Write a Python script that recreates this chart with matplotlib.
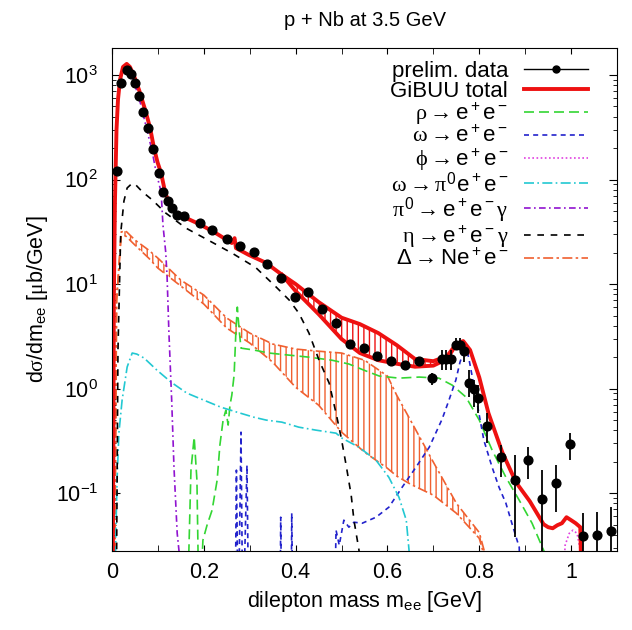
import numpy as np
import matplotlib
matplotlib.use('Agg')
import matplotlib.pyplot as plt
from matplotlib.lines import Line2D
from matplotlib.ticker import MultipleLocator, FuncFormatter, LogLocator

plt.rcParams['font.family'] = ['Liberation Sans', 'DejaVu Sans']
plt.rcParams['mathtext.fontset'] = 'custom'
plt.rcParams['mathtext.rm'] = 'Liberation Sans'
plt.rcParams['mathtext.it'] = 'Liberation Serif'
plt.rcParams['mathtext.default'] = 'it'
plt.rcParams['hatch.linewidth'] = 1.0

# preliminary data
data_x = [0.0115, 0.0203, 0.032, 0.0407, 0.0501, 0.0595, 0.0682, 0.0778, 0.0887, 0.1024,
          0.1118, 0.1214, 0.1314, 0.141, 0.157, 0.192, 0.2185, 0.25, 0.279, 0.309,
          0.338, 0.368, 0.399, 0.428, 0.458, 0.487, 0.518, 0.549, 0.578, 0.6085,
          0.638, 0.669, 0.698, 0.718, 0.728, 0.7386, 0.749, 0.7575, 0.7675, 0.778,
          0.7875, 0.797, 0.817, 0.8475, 0.877, 0.907, 0.9375, 0.9667, 0.997, 1.027,
          1.056, 1.0865]
data_y = [121, 844, 1116, 1016, 844, 634, 446, 313, 196, 115,
          76.5, 62.7, 53, 45.7, 44.7, 38.1, 32.9, 26.8, 23.1, 20.4,
          15.4, 11.4, 7.56, 8.43, 5.73, 4.21, 2.67, 2.46, 2.05, 1.85,
          1.67, 1.85, 1.27, 1.90, 1.90, 1.90, 2.61, 2.61, 2.28, 1.14,
          0.99, 0.817, 0.441, 0.220, 0.135, 0.207, 0.0889, 0.1265, 0.294, 0.0388,
          0.0396, 0.0432]
err_lo = [0] * 32 + [0.19, 0.40, 0.40, 0.40, 0.25, 0.25, 0.48, 0.30,
                     0.32, 0.23, 0.14, 0.078, 0.097, 0.071, 0.070, 0.061, 0.087, 0.0376,
                     0.0384, 0.0419]
err_hi = [0] * 32 + [0.14, 0.43, 0.43, 0.43, 0.43, 0.43, 0.23, 0.36,
                     0.22, 0.26, 0.14, 0.068, 0.096, 0.068, 0.077, 0.059, 0.081, 0.026,
                     0.026, 0.030]

# GiBUU total (upper branch of the band where there is one)
gibuu_x = [0.001, 0.003, 0.004, 0.0065, 0.0098, 0.013, 0.0174, 0.024, 0.032, 0.039,
           0.048, 0.059, 0.0734, 0.083, 0.0915, 0.099, 0.107, 0.1155, 0.124, 0.137,
           0.157, 0.19, 0.222, 0.261, 0.267, 0.27, 0.298, 0.335, 0.37, 0.40,
           0.45, 0.50, 0.54, 0.58, 0.62, 0.66, 0.70, 0.73, 0.75, 0.765,
           0.78, 0.80, 0.82, 0.85, 0.88, 0.91, 0.94, 0.95, 0.96, 0.97,
           0.98, 0.99, 1.0, 1.01, 1.02, 1.025]
gibuu_y = [0.005, 0.258, 7.03, 63.6, 298, 577, 896, 1194, 1275, 1194,
           978, 718, 446, 311, 200, 147, 115, 76.4, 59.6, 48.8,
           43.7, 37.5, 31.5, 24.7, 27.5, 22.1, 19.0, 16.0, 12.3, 10.0,
           6.73, 4.77, 4.14, 3.40, 2.61, 1.92, 1.83, 2.05, 2.67, 2.85,
           2.34, 1.28, 0.583, 0.247, 0.127, 0.0838, 0.0505, 0.0473, 0.0462, 0.0494,
           0.0516, 0.0589, 0.0552, 0.0516, 0.0473, 0.005]
gibuu_lo_x = [0.37, 0.40, 0.45, 0.50, 0.54, 0.58, 0.62, 0.66, 0.70, 0.73, 0.75]
gibuu_lo = [12.3, 8.57, 5.16, 2.98, 2.19, 1.87, 1.73, 1.62, 1.66, 1.92, 2.67]

rho_x = [0.163, 0.172, 0.179, 0.185, 0.190, 0.198, 0.207, 0.218, 0.229, 0.235,
         0.242, 0.248, 0.253, 0.257, 0.261, 0.266, 0.270, 0.273, 0.277, 0.281,
         0.309, 0.342, 0.386, 0.429, 0.479, 0.516, 0.549, 0.582, 0.625, 0.669,
         0.712, 0.741, 0.771, 0.800, 0.828, 0.858, 0.887, 0.915, 0.941, 0.952]
rho_y = [0.005, 0.166, 0.344, 0.133, 0.005, 0.0355, 0.0494, 0.0688, 0.133, 0.288,
         0.500, 0.622, 0.448, 0.695, 0.867, 1.35, 3.63, 6.02, 3.63, 2.44,
         2.34, 2.19, 2.09, 2.00, 1.87, 1.72, 1.50, 1.32, 1.26, 1.29,
         1.26, 1.08, 0.830, 0.500, 0.258, 0.142, 0.0857, 0.0516, 0.0279, 0.005]

omega_x = [0.268, 0.271, 0.275, 0.281, 0.285, 0.294, 0.298, 0.366, 0.3675, 0.370,
           0.390, 0.3915, 0.394, 0.484, 0.488, 0.495, 0.505, 0.516, 0.527, 0.545,
           0.575, 0.603, 0.632, 0.662, 0.691, 0.719, 0.734, 0.749, 0.758, 0.767,
           0.771, 0.778, 0.789, 0.800, 0.810, 0.828, 0.843, 0.858, 0.871, 0.887,
           0.893]
omega_y = [0.005, 0.166, 0.005, 0.383, 0.005, 0.185, 0.005, 0.005, 0.0589, 0.005,
           0.005, 0.0644, 0.005, 0.005, 0.0443, 0.0318, 0.0552, 0.0473, 0.0528, 0.0516,
           0.0589, 0.0734, 0.114, 0.177, 0.275, 0.510, 0.776, 1.21, 1.79, 2.34,
           2.61, 1.87, 1.03, 0.557, 0.321, 0.177, 0.114, 0.0802, 0.0516, 0.0304,
           0.005]

phi_x = [0.978, 0.987, 0.996, 1.004, 1.013, 1.020, 1.024]
phi_y = [0.005, 0.0318, 0.0413, 0.0443, 0.0413, 0.0285, 0.005]

om_dalitz_x = [0.004, 0.011, 0.015, 0.022, 0.033, 0.044, 0.054, 0.070, 0.098, 0.129,
               0.163, 0.200, 0.237, 0.272, 0.309, 0.336, 0.370, 0.407, 0.444, 0.488,
               0.501, 0.538, 0.575, 0.603, 0.625, 0.641, 0.647, 0.651]
om_dalitz_y = [0.005, 0.133, 0.375, 0.776, 1.61, 2.19, 2.14, 1.96, 1.50, 1.15,
               0.906, 0.776, 0.665, 0.596, 0.533, 0.500, 0.478, 0.428, 0.401, 0.375,
               0.336, 0.275, 0.207, 0.142, 0.0916, 0.0552, 0.0285, 0.005]

pi0_x = [0.001, 0.004, 0.009, 0.013, 0.020, 0.028, 0.037, 0.050, 0.063, 0.076,
         0.087, 0.096, 0.107, 0.111, 0.117, 0.120, 0.124, 0.130, 0.135, 0.142,
         0.146, 0.148]
pi0_y = [0.005, 21.1, 191, 577, 1000, 1219, 1117, 802, 516, 298,
         191, 118, 75.9, 36.7, 20.2, 11.7, 3.40, 0.776, 0.177, 0.0414,
         0.0279, 0.005]

eta_x = [0.009, 0.013, 0.019, 0.026, 0.033, 0.044, 0.052, 0.066, 0.088, 0.117,
         0.161, 0.211, 0.262, 0.313, 0.357, 0.386, 0.407, 0.429, 0.451, 0.473,
         0.488, 0.499, 0.510, 0.521, 0.527, 0.538, 0.542]
eta_y = [0.005, 2.34, 30.8, 62.2, 83.0, 92.1, 88.6, 76.4, 63.6, 47.8,
         34.3, 26.1, 19.7, 14.4, 9.42, 7.03, 5.27, 3.40, 1.87, 1.13,
         0.583, 0.344, 0.185, 0.0957, 0.0552, 0.0285, 0.005]

delta_x = [0.005, 0.01, 0.02, 0.03, 0.05, 0.08, 0.1, 0.15, 0.2, 0.25, 0.3, 0.35,
           0.4, 0.45, 0.5, 0.55, 0.6, 0.62, 0.65, 0.7, 0.75, 0.8, 0.82]
delta_hi = [0.005, 7.0, 31.5, 32.2, 26.4, 21.1, 17.7, 10.9, 7.85, 4.73, 3.40, 2.67,
            2.39, 2.28, 2.19, 1.87, 1.32, 0.867, 0.500, 0.198, 0.0802, 0.042, 0.02]
delta_lo = [0.005, 7.0, 28.8, 28.8, 23.6, 17.7, 14.2, 9.57, 6.44, 3.79, 2.73, 1.79,
            1.03, 0.695, 0.384, 0.247, 0.173, 0.146, 0.122, 0.0957, 0.0644, 0.037, 0.018]

labels = ['prelim. data', 'GiBUU total',
          r'$\rho \rightarrow \mathrm{e^+e^-}$',
          r'$\omega \rightarrow \mathrm{e^+e^-}$',
          r'$\phi \rightarrow \mathrm{e^+e^-}$',
          r'$\omega \rightarrow \pi^{\mathrm{0}}\mathrm{e^+e^-}$',
          r'$\pi^{\mathrm{0}} \rightarrow \mathrm{e^+e^-}\gamma$',
          r'$\eta \rightarrow \mathrm{e^+e^-}\gamma$',
          r'$\Delta \rightarrow \mathrm{Ne^+e^-}$']

c_red = '#ee1111'
c_green = '#33d633'
c_blue = '#2222cc'
c_mag = '#e040e0'
c_cyan = '#22c8d2'
c_purple = '#9013d0'
c_orange = '#f06030'

fig = plt.figure(figsize=(6.32, 6.30), dpi=100)
ax = fig.add_axes([112 / 632, 1 - 551 / 630, 505 / 632, 503 / 630])

# Delta band
ax.fill_between(delta_x, delta_lo, delta_hi, facecolor='none', edgecolor=c_orange,
                hatch='|||', linewidth=0)
ax.plot(delta_x, delta_hi, color=c_orange, lw=1.2, dashes=(6, 2, 1.5, 2))
ax.plot(delta_x, delta_lo, color=c_orange, lw=1.2, dashes=(6, 2, 1.5, 2))

ax.plot(rho_x, rho_y, color=c_green, lw=1.2, dashes=(6, 3))
ax.plot(omega_x, omega_y, color=c_blue, lw=1.2, dashes=(3, 2.5))
ax.plot(phi_x, phi_y, color=c_mag, lw=1.2, dashes=(1, 1.5))
ax.plot(om_dalitz_x, om_dalitz_y, color=c_cyan, lw=1.2, dashes=(6, 2, 1, 2))
ax.plot(pi0_x, pi0_y, color=c_purple, lw=1.2, dashes=(4, 2, 1, 2))
ax.plot(eta_x, eta_y, color='k', lw=1.2, dashes=(4, 4))

# GiBUU total with band
up = np.interp(gibuu_lo_x, gibuu_x, gibuu_y)
ax.fill_between(gibuu_lo_x, gibuu_lo, up, facecolor='none', edgecolor=c_red,
                hatch='|||', linewidth=0)
ax.plot(gibuu_x, gibuu_y, color=c_red, lw=2.8)
ax.plot(gibuu_lo_x, gibuu_lo, color=c_red, lw=2.8)

# data
yerr = np.array([err_lo, err_hi])
ax.errorbar(data_x, data_y, yerr=yerr, fmt='o', color='k', ms=6.3, elinewidth=1.3,
            capsize=0, zorder=5)

ax.set_yscale('log')
ax.set_xlim(0, 1.1)
ax.set_ylim(0.028, 1810)

ax.xaxis.set_major_locator(MultipleLocator(0.2))
ax.xaxis.set_minor_locator(MultipleLocator(0.1))
ax.xaxis.set_major_formatter(FuncFormatter(lambda v, p: '%g' % round(v, 2)))
ax.yaxis.set_major_locator(LogLocator(base=10, numticks=10))
ax.yaxis.set_minor_locator(LogLocator(base=10, subs=np.arange(2, 10), numticks=10))
ax.tick_params(which='both', direction='in', top=True, right=True, labelsize=15.5)
ax.tick_params(axis='x', which='both', length=4)
ax.tick_params(axis='y', which='major', length=6, pad=10)
ax.tick_params(axis='y', which='minor', length=3)
ax.tick_params(axis='x', pad=8)

ax.set_xlabel(r'dilepton mass m$_{\mathrm{ee}}$ [GeV]', fontsize=15.5, labelpad=4)
ax.set_ylabel(r'd$\sigma$/dm$_{\mathrm{ee}}$ [$\mu$b/GeV]', fontsize=15.5)
ax.yaxis.set_label_coords(-0.122, 0.5)
ax.set_title('p + Nb at 3.5 GeV', fontsize=14.5, pad=16)

handles = [Line2D([], [], color='k', marker='o', ms=5, lw=1),
           Line2D([], [], color=c_red, lw=2.8),
           Line2D([], [], color=c_green, lw=1.2, dashes=(6, 3)),
           Line2D([], [], color=c_blue, lw=1.2, dashes=(3, 2.5)),
           Line2D([], [], color=c_mag, lw=1.2, dashes=(1, 1.5)),
           Line2D([], [], color=c_cyan, lw=1.2, dashes=(6, 2, 1, 2)),
           Line2D([], [], color=c_purple, lw=1.2, dashes=(4, 2, 1, 2)),
           Line2D([], [], color='k', lw=1.2, dashes=(4, 4)),
           Line2D([], [], color=c_orange, lw=1.2, dashes=(6, 2, 1.5, 2))]
leg = ax.legend(handles, labels, loc='upper right', frameon=False, markerfirst=False,
                fontsize=16, handlelength=2.9, handletextpad=0.7, labelspacing=-0.05,
                borderaxespad=0, borderpad=0.3, bbox_to_anchor=(0.956, 0.988))

fig.savefig('out.png', dpi=100)
